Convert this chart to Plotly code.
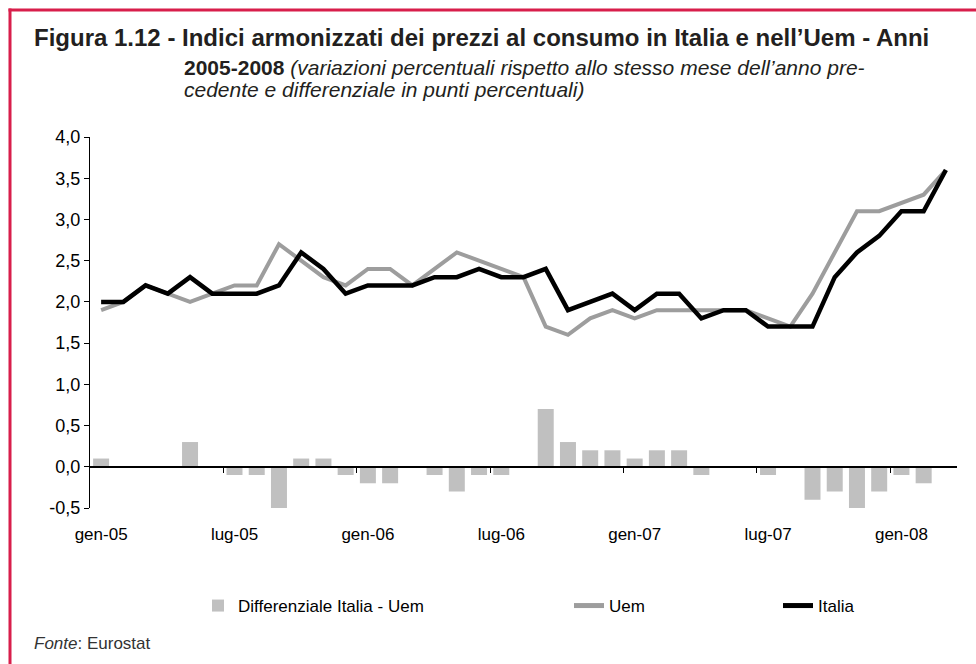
import plotly.graph_objects as go

# ---- data ----
months_idx = list(range(39))  # gen-05 ... mar-08
tick_labels = ["gen-05", "lug-05", "gen-06", "lug-06", "gen-07", "lug-07", "gen-08"]
tick_positions = [0, 6, 12, 18, 24, 30, 36]
y_tick_values = [-0.5, 0.0, 0.5, 1.0, 1.5, 2.0, 2.5, 3.0, 3.5, 4.0]
y_tick_labels = ["-0,5", "0,0", "0,5", "1,0", "1,5", "2,0", "2,5", "3,0", "3,5", "4,0"]

italia = [2.0, 2.0, 2.2, 2.1, 2.3, 2.1, 2.1, 2.1, 2.2, 2.6, 2.4, 2.1,
          2.2, 2.2, 2.2, 2.3, 2.3, 2.4, 2.3, 2.3, 2.4, 1.9, 2.0, 2.1,
          1.9, 2.1, 2.1, 1.8, 1.9, 1.9, 1.7, 1.7, 1.7, 2.3, 2.6, 2.8,
          3.1, 3.1, 3.6]
uem = [1.9, 2.0, 2.2, 2.1, 2.0, 2.1, 2.2, 2.2, 2.7, 2.5, 2.3, 2.2,
       2.4, 2.4, 2.2, 2.4, 2.6, 2.5, 2.4, 2.3, 1.7, 1.6, 1.8, 1.9,
       1.8, 1.9, 1.9, 1.9, 1.9, 1.9, 1.8, 1.7, 2.1, 2.6, 3.1, 3.1,
       3.2, 3.3, 3.6]
differenziale = [0.1, 0.0, 0.0, 0.0, 0.3, 0.0, -0.1, -0.1, -0.5, 0.1, 0.1, -0.1,
                 -0.2, -0.2, 0.0, -0.1, -0.3, -0.1, -0.1, 0.0, 0.7, 0.3, 0.2, 0.2,
                 0.1, 0.2, 0.2, -0.1, 0.0, 0.0, -0.1, 0.0, -0.4, -0.3, -0.5, -0.3,
                 -0.1, -0.2, 0.0]

Y_MIN, Y_MAX = -0.5, 4.0

# ---- layout geometry (pixels) ----
W, H = 976, 664
ML, MR, MT, MB = 90, 19, 137, 156
PW, PH = W - ML - MR, H - MT - MB


def px_x(p):
    return (p - ML) / PW


def px_y(p):
    return (H - MB - p) / PH


FONT = "Liberation Sans, Arial, Helvetica, sans-serif"
TXT = "#231f20"
RED = "#d81e4b"

fig = go.Figure()

fig.add_trace(go.Bar(
    x=months_idx, y=differenziale, name="Differenziale Italia - Uem",
    marker=dict(color="#c0c0c0", line=dict(width=0)),
    width=0.72, xaxis="x2", yaxis="y", legendwidth=326,
))
fig.add_trace(go.Scatter(
    x=months_idx, y=uem, name="Uem", mode="lines",
    line=dict(color="#9d9d9d", width=4), legendwidth=164,
))
fig.add_trace(go.Scatter(
    x=months_idx, y=italia, name="Italia", mode="lines",
    line=dict(color="#000000", width=4.5),
))

boundaries = [p - 0.5 for p in tick_positions[1:]]

fig.update_layout(
    width=W, height=H,
    margin=dict(l=ML, r=MR, t=MT, b=MB, pad=0),
    paper_bgcolor="white", plot_bgcolor="white",
    separators=",.",
    font=dict(family=FONT, color=TXT, size=17),
    showlegend=True,
    legend=dict(
        orientation="h", x=px_x(198), xanchor="left",
        y=px_y(606), yanchor="middle",
        font=dict(size=17, color="#000000"),
        bgcolor="rgba(0,0,0,0)", traceorder="normal",
        itemsizing="constant",
    ),
    xaxis=dict(
        range=[-0.5, 38.5], tickmode="array",
        tickvals=tick_positions, ticktext=tick_labels,
        ticks="outside", ticklen=11, tickcolor="rgba(0,0,0,0)",
        showline=False, showgrid=False, zeroline=False,
        tickfont=dict(size=17, color="#000000"),
        fixedrange=True,
    ),
    xaxis2=dict(
        range=[-0.5, 38.5], overlaying="x", anchor="free",
        position=(0 - Y_MIN) / (Y_MAX - Y_MIN),
        tickmode="array", tickvals=boundaries,
        ticks="outside", ticklen=5, tickwidth=1, tickcolor="#000000",
        showticklabels=False, showline=True, linecolor="#000000",
        linewidth=1.5, showgrid=False, zeroline=False,
    ),
    yaxis=dict(
        range=[Y_MIN, Y_MAX], tickmode="array",
        tickvals=y_tick_values, ticktext=y_tick_labels,
        ticks="outside", ticklen=5, tickwidth=1, tickcolor="#000000",
        showline=True, linecolor="#000000", linewidth=1,
        showgrid=False, zeroline=False,
        tickfont=dict(size=18, color="#000000"),
    ),
    bargap=0.3,
)

annotations = [
    dict(text="<b>Figura 1.12 - Indici armonizzati dei prezzi al consumo in Italia e nell\u2019Uem - Anni</b>",
         x=px_x(32), y=px_y(38), font=dict(size=24, color=TXT)),
    dict(text="<b>2005-2008</b> <i>(variazioni percentuali rispetto allo stesso mese dell\u2019anno pre-</i>",
         x=px_x(182), y=px_y(68), font=dict(size=21, color=TXT)),
    dict(text="<i>cedente e differenziale in punti percentuali)</i>",
         x=px_x(182), y=px_y(90), font=dict(size=21, color=TXT)),
    dict(text="<i>Fonte</i>: Eurostat",
         x=px_x(32), y=px_y(643), font=dict(size=17, color="#333333")),
]
for a in annotations:
    a.update(xref="paper", yref="paper", xanchor="left", yanchor="middle",
             showarrow=False, align="left")
fig.update_layout(annotations=annotations)

fig.update_layout(shapes=[
    dict(type="line", xref="paper", yref="paper",
         x0=px_x(8.5), x1=px_x(W), y0=px_y(10), y1=px_y(10),
         line=dict(color=RED, width=3)),
    dict(type="line", xref="paper", yref="paper",
         x0=px_x(10), x1=px_x(10), y0=px_y(8.5), y1=px_y(H),
         line=dict(color=RED, width=3)),
])

fig.write_html(
    "out.html",
    config={"displayModeBar": False},
    post_script="document.body.style.margin='0';document.body.style.overflow='hidden';",
)
